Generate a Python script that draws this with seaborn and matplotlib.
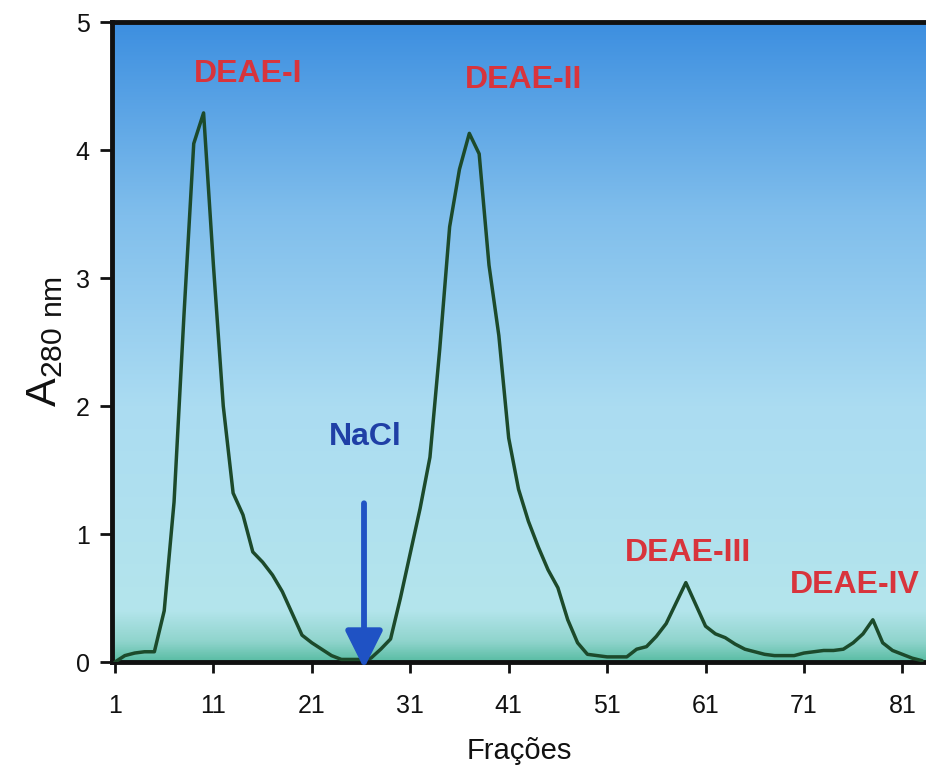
import numpy as np
import pandas as pd
import matplotlib
matplotlib.use("Agg")
import matplotlib.pyplot as plt
from matplotlib.colors import LinearSegmentedColormap
import seaborn as sns

sns.set_theme(style="ticks")
plt.rcParams['font.family'] = ['Liberation Sans', 'DejaVu Sans']
plt.rcParams['mathtext.fontset'] = 'custom'
plt.rcParams['mathtext.rm'] = 'Liberation Sans'

# fraction number and absorbance
fractions = list(range(1, 84))
absorbance = [
    0.00, 0.05, 0.07, 0.08, 0.08, 0.40, 1.25, 2.70, 4.05, 4.29,   # 1-10
    3.10, 2.00, 1.32, 1.15, 0.86, 0.78, 0.68, 0.55, 0.38, 0.21,   # 11-20
    0.15, 0.10, 0.05, 0.02, 0.02, 0.02, 0.03, 0.10, 0.18, 0.50,   # 21-30
    0.85, 1.20, 1.60, 2.45, 3.40, 3.85, 4.13, 3.97, 3.10, 2.55,   # 31-40
    1.75, 1.35, 1.10, 0.90, 0.72, 0.58, 0.33, 0.15, 0.06, 0.05,   # 41-50
    0.04, 0.04, 0.04, 0.10, 0.12, 0.20, 0.30, 0.46, 0.62, 0.45,   # 51-60
    0.28, 0.22, 0.19, 0.14, 0.10, 0.08, 0.06, 0.05, 0.05, 0.05,   # 61-70
    0.07, 0.08, 0.09, 0.09, 0.10, 0.15, 0.22, 0.33, 0.15, 0.09,   # 71-80
    0.06, 0.03, 0.01,                                             # 81-83
]
df = pd.DataFrame({'fracao': fractions, 'A280': absorbance})

peak_labels = ['DEAE-I', 'DEAE-II', 'DEAE-III', 'DEAE-IV']
peak_label_x = [14.5, 42.5, 59.2, 76.2]
peak_label_y = [4.59, 4.55, 0.85, 0.60]

nacl_x = 26.3
nacl_arrow_top = 1.24
x_ticks = [1, 11, 21, 31, 41, 51, 61, 71, 81]
y_ticks = [0, 1, 2, 3, 4, 5]

fig = plt.figure(figsize=(9.26, 7.75), dpi=100)
ax = fig.add_axes([0.121, 0.1458, 0.879, 0.8258])

# gradient background (blue at top -> pale cyan -> teal at the baseline)
bg = LinearSegmentedColormap.from_list('bg', [
    (0.00, '#5abda4'),
    (0.03, '#8fd4cc'),
    (0.08, '#b4e5ec'),
    (0.40, '#abdcf2'),
    (0.70, '#80beec'),
    (1.00, '#3d8fe0'),
])
grad = np.linspace(0, 1, 256).reshape(-1, 1)
ax.imshow(grad, cmap=bg, origin='lower', aspect='auto',
          extent=[0.7, 83.4, 0, 5], zorder=0)

sns.lineplot(data=df, x='fracao', y='A280', color='#1c4a2b', linewidth=2.5,
             ax=ax, zorder=3)

for lab, lx, ly in zip(peak_labels, peak_label_x, peak_label_y):
    ax.text(lx, ly, lab, color='#d8343c', fontsize=23, fontweight='bold',
            ha='center', va='center', zorder=4)

ax.text(26.4, 1.76, 'NaCl', color='#1f3fa6', fontsize=23, fontweight='bold',
        ha='center', va='center', zorder=4)
ax.annotate('', xy=(nacl_x, -0.05), xytext=(nacl_x, nacl_arrow_top),
            arrowprops=dict(arrowstyle='-|>,head_width=0.95,head_length=1.9',
                            color='#1f52c4', lw=4.2, shrinkA=0, shrinkB=0),
            annotation_clip=False, zorder=5)

ax.set_xlim(0.7, 83.4)
ax.set_ylim(0, 5)
ax.set_xticks(x_ticks)
ax.set_yticks(y_ticks)
ax.tick_params(axis='both', labelsize=18, width=2, color='#111111',
               labelcolor='#111111')
ax.tick_params(axis='x', length=8, pad=15)
ax.tick_params(axis='y', length=9, pad=7)
ax.set_xlabel('Frações', fontsize=21, labelpad=14, color='#111111')
ax.set_ylabel(r'A$_{\mathregular{280\ nm}}$', fontsize=31, labelpad=8,
              color='#111111')

for side in ['left', 'bottom', 'top']:
    ax.spines[side].set_linewidth(3.5)
    ax.spines[side].set_color('#111111')
ax.spines['right'].set_visible(False)

fig.savefig('out.png', dpi=100)
